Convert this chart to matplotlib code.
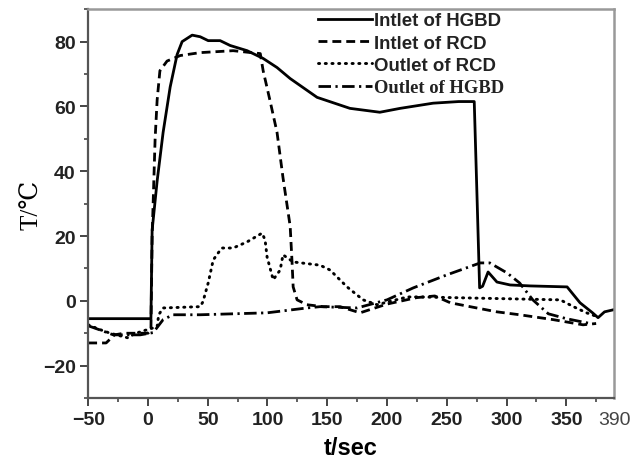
import matplotlib
matplotlib.use("Agg")
import matplotlib.pyplot as plt
from matplotlib.ticker import MultipleLocator

## data (t in sec, T in degC)

hgbd_in_t = [-50, 2.5, 3.5, 7.7, 12.7, 18.6, 24.4, 28.6, 37, 43.7, 50.4, 60.4, 68.8, 83, 96.4,
             108, 119, 141.5, 169, 194, 211, 238.6, 260, 273, 275.5, 277.5, 280, 284.6, 292,
             303, 320, 350.7, 361.5, 372, 376.6, 382, 389]
hgbd_in_T = [-5.5, -5.5, 21.8, 37, 52, 66, 76, 80, 82, 81.5, 80.3, 80.3, 78.8, 77.2, 74.8,
             72, 68.6, 62.8, 59.4, 58.2, 59.4, 61, 61.5, 61.5, 30, 4, 4.5, 8.9, 5.8,
             4.9, 4.6, 4.3, -0.6, -3.7, -5.2, -3.4, -2.8]

rcd_in_t = [-50, -35, -28, -20, -10, 0, 2.5, 3.5, 6, 7.7, 10, 16, 27, 43.7, 71.3, 94, 96.4,
            102, 108, 113, 119, 120.6, 121.5, 124.8, 133, 146.6, 160.8, 177.5, 200, 225, 240,
            253, 269.5, 292, 311, 339, 364, 375]
rcd_in_T = [-13, -13, -10.5, -10, -10, -10, -9, 20, 50, 62, 71, 74, 75.7, 76.6, 77.2, 76.3, 71,
            62, 52, 38, 23, 11.7, 4.3, 0.3, -1.2, -1.8, -1.8, -3.7, -1, 1, 1.5,
            -0.6, -1.8, -3.4, -4.3, -5.8, -7.4, -7]

rcd_out_t = [-50, -40, -31.6, -17, -10, -0.6, 7.7, 9, 12.7, 43.7, 46, 50.4, 54.6, 58.8, 62,
             71.3, 83, 95.5, 98, 99.7, 104.8, 110.6, 113, 121.5, 144, 152.4, 166.6, 180,
             191.7, 217, 227.7, 345, 356, 367, 376]
rcd_out_T = [-7.4, -8.9, -10, -11.4, -10, -8.9, -8, -4.3, -2.2, -1.8, -0.3, 5.5, 12.6, 14.8, 16.3,
             16.3, 18.2, 20.9, 18.8, 13.5, 6.5, 9.5, 14.2, 12, 11, 9.5, 4.3, 0.3,
             -1.2, 1.2, 1.2, 0.3, -1.8, -3.7, -4.9]

hgbd_out_t = [-50, -40, -29, -6.5, 4.4, 12.7, 21, 43.7, 99.7, 133, 144, 175, 200, 222, 250,
              278, 286, 300.5, 311, 322, 335, 350, 370]
hgbd_out_T = [-7.7, -9, -10.5, -10.5, -9.8, -5.8, -4.3, -4.3, -3.7, -2.2, -1.8, -2.2, 0.3, 4, 8,
              11.7, 11.7, 8.6, 5.5, 0.3, -4, -5.5, -7]

labels = ["Intlet of HGBD", "Intlet of RCD", "Outlet of RCD", "Outlet of HGBD"]
xticks = [-50, 0, 50, 100, 150, 200, 250, 300, 350, 390]
yticks = [-20, 0, 20, 40, 60, 80]

plt.rcParams['font.family'] = ['Liberation Sans', 'DejaVu Sans']

fig = plt.figure(figsize=(6.39, 4.64), dpi=100)
ax = fig.add_axes([0.138, 0.140, 0.823, 0.838])

ax.plot(hgbd_in_t, hgbd_in_T, color='black', lw=2.0, label=labels[0])
ax.plot(rcd_in_t, rcd_in_T, color='black', lw=2.0, dashes=(3.2, 1.8), label=labels[1])
ax.plot(rcd_out_t, rcd_out_T, color='black', lw=2.1, dashes=(0.4, 1.9),
        dash_capstyle='round', label=labels[2])
ax.plot(hgbd_out_t, hgbd_out_T, color='black', lw=2.0, dashes=(4.5, 1.6, 0.8, 1.6), label=labels[3])

ax.set_xlim(-50, 390)
ax.set_ylim(-30, 90)
ax.set_xticks(xticks)
ax.set_yticks(yticks)
ax.xaxis.set_minor_locator(MultipleLocator(25))
ax.yaxis.set_minor_locator(MultipleLocator(10))
ax.tick_params(which='major', direction='out', length=6, width=1.4, color='#444',
               labelsize=14, pad=3)
ax.tick_params(which='minor', direction='out', length=3, width=1.2, color='#444')
ax.tick_params(top=False, right=False, which='both')
for lab in ax.get_xticklabels() + ax.get_yticklabels():
    lab.set_fontweight('bold')
    lab.set_color('#222')
last = ax.get_xticklabels()[-1]
last.set_fontweight('normal')
last.set_color('#444')
ax.get_xticklines()[-2].set_visible(False)

for s in ['left', 'bottom']:
    ax.spines[s].set_color('#555')
    ax.spines[s].set_linewidth(1.6)
for s in ['top', 'right']:
    ax.spines[s].set_color('#999')
    ax.spines[s].set_linewidth(1.8)

ax.set_xlabel('t/sec', fontsize=17, fontweight='bold', labelpad=6)
ax.set_ylabel('T/\u2103', fontsize=18, family=['Liberation Serif', 'DejaVu Serif'])
ax.yaxis.set_label_coords(-0.085, 0.5)

leg = ax.legend(loc='upper left', bbox_to_anchor=(0.437, 0.992), frameon=False,
                borderpad=0, borderaxespad=0, handlelength=2.9, handletextpad=0.1,
                labelspacing=0.28, prop={'size': 13.4, 'weight': 'bold'})
leg.get_texts()[3].set_fontfamily(['Liberation Serif', 'DejaVu Serif'])
for t in leg.get_texts():
    t.set_color('#222')

plt.savefig('out.png', dpi=100)
